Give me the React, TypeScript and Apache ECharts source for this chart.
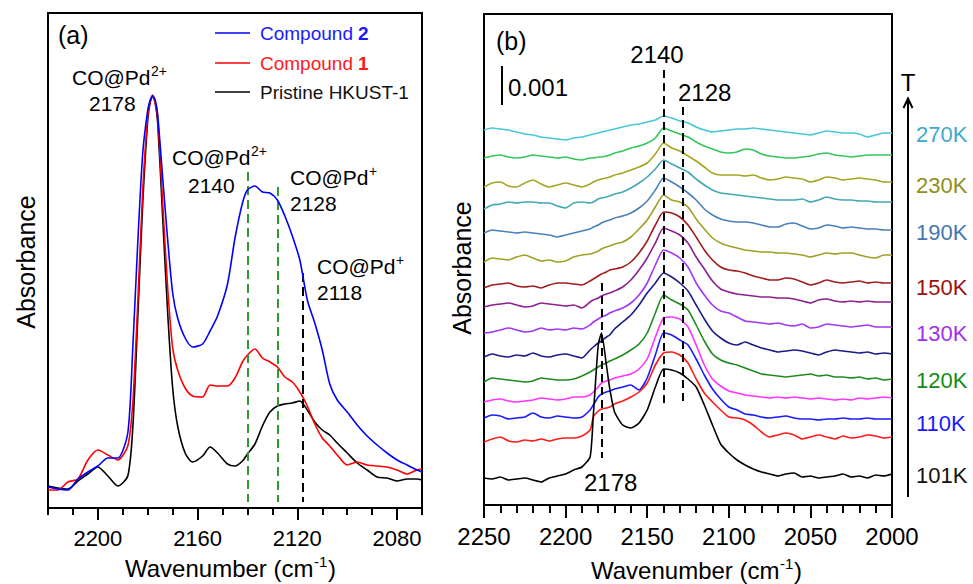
import { useEffect, useRef } from "react";
import * as echarts from "echarts";

const FONT = '"Liberation Sans", Arial, Helvetica, sans-serif';

// ---------- Panel (a) data ----------
const WN_A = [2220, 2216, 2212, 2208, 2204, 2200, 2196, 2192, 2188, 2186, 2184, 2182, 2180, 2179, 2178, 2177, 2176, 2174, 2172, 2170, 2168, 2165, 2162, 2158, 2155, 2152, 2148, 2145, 2142, 2140, 2137, 2134, 2131, 2128, 2125, 2122, 2119, 2116, 2113, 2110, 2107, 2104, 2100, 2096, 2092, 2088, 2084, 2080, 2076, 2072, 2070];
const PRISTINE_A = [22, 20, 19, 27, 34, 41, 32, 22, 32, 80, 190, 305, 388, 406, 412, 405, 385, 290, 195, 120, 82, 55, 46, 52, 61, 55, 44, 42, 47, 54, 64, 82, 96, 102, 104, 105, 107, 98, 86, 78, 73, 65, 55, 45, 38, 31, 30, 27, 29, 29, 28];
const COMPOUND1_A = [18, 18, 26, 29, 48, 58, 53, 48, 62, 105, 205, 318, 392, 407, 413, 405, 390, 305, 220, 160, 138, 120, 112, 111, 123, 122, 122, 130, 146, 153, 159, 150, 146, 141, 131, 126, 116, 102, 84, 70, 62, 53, 43, 46, 43, 42, 41, 38, 34, 38, 39];
const COMPOUND2_A = [21, 19, 18, 29, 36, 42, 50, 50, 75, 160, 265, 355, 398, 408, 412, 408, 393, 330, 268, 215, 190, 170, 161, 164, 177, 192, 224, 270, 305, 318, 322, 316, 315, 308, 292, 272, 248, 208, 185, 158, 124, 108, 96, 83, 72, 63, 55, 48, 43, 38, 36];
const A_MAJOR_TICKS = [2200, 2160, 2120, 2080];
const A_MARKERS = [2140, 2128, 2118];

// ---------- Panel (b) data ----------
const WN_B = [2250, 2245, 2240, 2235, 2230, 2225, 2220, 2215, 2210, 2205, 2200, 2195, 2190, 2185, 2183, 2180, 2178, 2175, 2173, 2170, 2165, 2160, 2155, 2150, 2145, 2140, 2135, 2130, 2125, 2120, 2115, 2110, 2105, 2100, 2095, 2090, 2085, 2080, 2075, 2070, 2065, 2060, 2055, 2050, 2045, 2040, 2035, 2030, 2025, 2020, 2015, 2010, 2005, 2000];
const TEMPS_B = ["270K", "250K", "230K", "210K", "190K", "170K", "150K", "140K", "130K", "125K", "120K", "115K", "110K", "105K", "101K"];
const B_270K = [375, 377, 376, 375, 373, 371, 370, 368, 367, 366, 365, 367, 368, 370, 371, 372, 373, 374, 375, 376, 378, 380, 381, 383, 385, 389, 387, 384, 382, 378, 375, 373, 374, 375, 376, 376, 377, 376, 375, 374, 373, 372, 371, 370, 372, 374, 373, 372, 372, 371, 368, 370, 372, 372];
const B_250K = [347, 349, 350, 348, 347, 348, 350, 349, 348, 347, 348, 346, 345, 347, 347, 348, 348, 349, 350, 352, 354, 357, 359, 362, 367, 377, 374, 371, 368, 363, 359, 356, 353, 352, 353, 356, 355, 351, 349, 348, 347, 347, 348, 349, 351, 352, 350, 349, 348, 349, 350, 350, 350, 350];
const B_230K = [318, 322, 323, 319, 318, 322, 325, 321, 318, 320, 322, 320, 318, 321, 323, 325, 326, 327, 328, 330, 332, 335, 338, 342, 351, 362, 357, 354, 349, 344, 338, 332, 330, 330, 330, 329, 330, 327, 325, 326, 328, 327, 326, 323, 325, 328, 327, 325, 326, 327, 326, 325, 323, 323];
const B_210K = [296, 300, 301, 303, 302, 303, 303, 302, 302, 299, 297, 302, 303, 302, 303, 306, 307, 308, 309, 311, 313, 317, 322, 328, 336, 345, 341, 337, 333, 326, 320, 315, 312, 311, 310, 309, 308, 307, 306, 305, 305, 305, 306, 303, 305, 308, 306, 305, 305, 304, 304, 303, 303, 303];
const B_190K = [272, 275, 274, 273, 272, 273, 272, 271, 270, 268, 270, 272, 274, 276, 278, 280, 282, 284, 285, 287, 289, 292, 297, 304, 315, 327, 323, 318, 312, 305, 296, 290, 286, 284, 283, 283, 282, 280, 278, 278, 281, 282, 279, 276, 277, 280, 279, 277, 278, 277, 276, 276, 275, 275];
const B_170K = [243, 247, 246, 245, 248, 250, 247, 244, 245, 243, 244, 248, 250, 251, 252, 254, 256, 258, 259, 261, 263, 268, 276, 285, 298, 310, 305, 303, 298, 286, 276, 267, 262, 259, 257, 255, 254, 253, 253, 252, 252, 251, 250, 248, 250, 252, 251, 252, 252, 250, 248, 247, 250, 250];
const B_150K = [217, 220, 221, 222, 219, 218, 219, 217, 220, 222, 222, 221, 220, 224, 226, 229, 231, 233, 235, 236, 238, 243, 252, 264, 280, 293, 292, 288, 280, 268, 255, 245, 238, 235, 234, 232, 229, 227, 225, 225, 227, 226, 223, 220, 222, 225, 223, 222, 223, 224, 222, 223, 222, 222];
const B_140K = [198, 200, 201, 202, 200, 198, 199, 202, 201, 200, 199, 200, 197, 203, 205, 207, 209, 211, 212, 214, 218, 225, 235, 247, 262, 277, 274, 270, 262, 248, 236, 224, 216, 213, 211, 210, 209, 208, 208, 207, 207, 206, 204, 202, 205, 206, 204, 203, 204, 203, 204, 203, 203, 203];
const B_130K = [172, 173, 175, 177, 175, 173, 174, 177, 175, 176, 175, 177, 176, 180, 183, 186, 188, 190, 192, 194, 197, 202, 210, 222, 240, 255, 252, 247, 238, 222, 210, 200, 194, 192, 188, 184, 183, 182, 181, 182, 180, 179, 181, 177, 178, 181, 180, 179, 178, 179, 180, 178, 178, 178];
const B_125K = [148, 151, 149, 148, 150, 149, 152, 149, 148, 150, 151, 149, 147, 155, 158, 162, 164, 168, 170, 176, 183, 190, 200, 212, 222, 232, 228, 222, 214, 200, 186, 174, 167, 162, 160, 163, 160, 157, 155, 153, 154, 155, 154, 152, 150, 153, 155, 154, 153, 152, 153, 151, 152, 151];
const B_120K = [123, 127, 126, 125, 124, 123, 124, 127, 126, 125, 125, 126, 129, 133, 135, 138, 140, 142, 144, 146, 150, 155, 161, 172, 192, 210, 205, 201, 195, 180, 164, 151, 145, 142, 140, 137, 134, 131, 130, 129, 128, 129, 130, 131, 129, 130, 128, 128, 127, 128, 126, 127, 125, 126];
const B_115K = [103, 105, 106, 104, 103, 104, 105, 107, 106, 105, 106, 108, 108, 110, 113, 118, 122, 124, 125, 127, 129, 131, 136, 146, 168, 187, 188, 186, 178, 160, 140, 126, 119, 114, 112, 110, 109, 108, 107, 108, 107, 108, 107, 106, 107, 106, 105, 106, 105, 107, 106, 107, 108, 107];
const B_110K = [87, 90, 89, 86, 87, 88, 92, 88, 87, 89, 88, 87, 88, 95, 100, 108, 111, 113, 114, 116, 118, 120, 115, 127, 150, 172, 170, 165, 160, 146, 130, 116, 106, 98, 95, 91, 90, 88, 87, 88, 89, 87, 86, 86, 85, 86, 86, 87, 86, 86, 87, 86, 86, 86];
const B_105K = [63, 66, 68, 64, 63, 65, 64, 66, 64, 66, 67, 67, 69, 75, 88, 94, 96, 97, 98, 101, 104, 108, 113, 122, 140, 152, 153, 150, 142, 126, 112, 103, 95, 88, 87, 85, 80, 73, 68, 70, 72, 70, 66, 68, 70, 68, 66, 69, 67, 68, 70, 69, 67, 68];
const B_101K = [27, 26, 28, 25, 26, 27, 25, 23, 27, 29, 31, 35, 38, 48, 90, 160, 172, 140, 117, 93, 80, 77, 82, 95, 118, 136, 135, 132, 126, 118, 100, 80, 61, 52, 45, 40, 36, 33, 31, 29, 31, 32, 28, 29, 27, 28, 29, 31, 28, 29, 27, 30, 29, 31];
const SPECTRA_B = [B_270K, B_250K, B_230K, B_210K, B_190K, B_170K, B_150K, B_140K, B_130K, B_125K, B_120K, B_115K, B_110K, B_105K, B_101K];
const B_MARKERS = [2140, 2128, 2178];
const B_SCALE_BAR = 39; // units per 0.001 absorbance
const LABELED_TEMPS = ["270K", "230K", "190K", "150K", "130K", "120K", "110K", "101K"];

// ---------- styles ----------
const COLORS_B = ["#46c8d8", "#33c75a", "#a5a521", "#42a9b3", "#4b80b8", "#a0a024", "#a01c1c", "#8e1f8e", "#a236f5", "#1c1c88", "#1f8a1f", "#ff33ff", "#1a1aff", "#ff1a1a", "#000000"];
const LABEL_COLORS: Record<string, string> = { "270K": "#3fa9cc", "230K": "#8f8f1a", "190K": "#4477b0", "150K": "#9e1010", "130K": "#a030f0", "120K": "#128c12", "110K": "#1a1aff", "101K": "#111111" };
const LABEL_Y: Record<string, number> = { "270K": 134, "230K": 185, "190K": 232, "150K": 287, "130K": 333, "120K": 380, "110K": 423, "101K": 475 };

const T = (text: string, x: number, y: number, size: number, fill = "#000", align = "left", weight = "normal", rotation = 0) => ({
  type: "text",
  x,
  y,
  rotation,
  silent: true,
  style: {
    text,
    fill,
    font: `${weight} ${size}px ${FONT}`,
    align,
    verticalAlign: "middle",
    textAlign: align,
    textVerticalAlign: "middle",
  },
});

const L = (x1: number, y1: number, x2: number, y2: number, stroke: string, lineWidth = 1.6) => ({
  type: "line",
  silent: true,
  shape: { x1, y1, x2, y2 },
  style: { stroke, lineWidth },
});

function buildOption() {
  const pairs = (wn: number[], vals: number[]) => wn.map((w, i) => [w, vals[i]]);

  const seriesA = [
    { name: "Pristine HKUST-1", vals: PRISTINE_A, color: "#000000" },
    { name: "Compound 1", vals: COMPOUND1_A, color: "#ff0000" },
    { name: "Compound 2", vals: COMPOUND2_A, color: "#0000ff" },
  ].map((s, idx) => ({
    type: "line",
    name: s.name,
    xAxisIndex: 0,
    yAxisIndex: 0,
    data: pairs(WN_A, s.vals),
    showSymbol: false,
    smooth: 0.25,
    lineStyle: { color: s.color, width: 1.6 },
    z: 3 + idx,
    markLine:
      idx === 0
        ? {
            silent: true,
            symbol: ["none", "none"],
            label: { show: false },
            data: [
              [{ coord: [A_MARKERS[0], 336], lineStyle: { color: "#2f9a2f", width: 2, type: [9, 5] } }, { coord: [A_MARKERS[0], 6] }],
              [{ coord: [A_MARKERS[1], 321], lineStyle: { color: "#2f9a2f", width: 2, type: [9, 5] } }, { coord: [A_MARKERS[1], 6] }],
              [{ coord: [A_MARKERS[2], 235], lineStyle: { color: "#000", width: 2, type: [9, 5] } }, { coord: [A_MARKERS[2], 6] }],
            ],
          }
        : undefined,
  }));

  const seriesB = SPECTRA_B.map((vals, i) => ({
    type: "line",
    name: TEMPS_B[i],
    xAxisIndex: 2,
    yAxisIndex: 1,
    data: pairs(WN_B, vals),
    showSymbol: false,
    smooth: 0.2,
    lineStyle: { color: COLORS_B[i], width: 1.6 },
    z: 3,
    markLine:
      i === 0
        ? {
            silent: true,
            symbol: ["none", "none"],
            label: { show: false },
            data: [
              [{ coord: [B_MARKERS[0], 435], lineStyle: { color: "#000", width: 2, type: [8, 5] } }, { coord: [B_MARKERS[0], 97] }],
              [{ coord: [B_MARKERS[1], 398], lineStyle: { color: "#000", width: 2, type: [8, 5] } }, { coord: [B_MARKERS[1], 102] }],
              [{ coord: [B_MARKERS[2], 222], lineStyle: { color: "#000", width: 2, type: [8, 5] } }, { coord: [B_MARKERS[2], 47] }],
              [{ coord: [2239, 439], lineStyle: { color: "#000", width: 2, type: "solid" } }, { coord: [2239, 439 - B_SCALE_BAR] }],
            ],
          }
        : undefined,
  }));

  const labelStyle = (size: number) => ({ color: "#000", fontSize: size, fontFamily: FONT, formatter: (v: number) => String(v) });

  const graphic: any[] = [
    // panel (a)
    T("(a)", 58, 35, 25),
    L(215, 33, 250, 33, "#0000ff"),
    L(215, 63, 250, 63, "#ff0000"),
    L(215, 92, 250, 92, "#000000"),
    T("Compound ", 260, 33, 19, "#1a1aff"),
    T("2", 358, 33, 19, "#1a1aff", "left", "bold"),
    T("Compound ", 260, 63, 19, "#ff1a1a"),
    T("1", 358, 63, 19, "#ff1a1a", "left", "bold"),
    T("Pristine HKUST-1", 260, 92, 19, "#111"),
    T("CO@Pd", 72, 77, 21),
    T("2+", 151, 71, 14),
    T("2178", 89, 103, 21),
    T("CO@Pd", 172, 157, 21),
    T("2+", 251, 151, 14),
    T("2140", 188, 185, 21),
    T("CO@Pd", 290, 177, 21),
    T("+", 369, 171, 14),
    T("2128", 290, 203, 21),
    T("CO@Pd", 317, 266, 21),
    T("+", 396, 260, 14),
    T("2118", 317, 292, 21),
    T("Absorbance", 26, 262, 25, "#000", "center", "normal", Math.PI / 2),
    T("Wavenumber (cm", 125, 568, 24),
    T("-1", 314, 561, 15),
    T(")", 328, 568, 24),
    // panel (b)
    T("(b)", 496, 41, 25),
    T("2140", 657, 54, 24, "#000", "center"),
    T("2128", 678, 92, 24),
    T("0.001", 508, 87, 24),
    T("2178", 584, 482, 24),
    T("Absorbance", 462, 268, 25, "#000", "center", "normal", Math.PI / 2),
    T("Wavenumber (cm", 591, 570, 24),
    T("-1", 780, 563, 15),
    T(")", 794, 570, 24),
    T("T", 908, 82, 24, "#000", "center"),
    L(908, 497, 908, 99, "#000", 2),
    { type: "polyline", silent: true, shape: { points: [[903.5, 108], [908, 98.5], [912.5, 108]] }, style: { stroke: "#000", lineWidth: 2, fill: "none" } },
    ...LABELED_TEMPS.map((t) => T(t, 916, LABEL_Y[t], 22, LABEL_COLORS[t])),
  ];

  return {
    animation: false,
    backgroundColor: "#ffffff",
    grid: [
      { left: 48, top: 13, width: 374, height: 495, show: true, borderColor: "#000", borderWidth: 2, backgroundColor: "transparent" },
      { left: 484, top: 14, width: 408, height: 491, show: true, borderColor: "#000", borderWidth: 2, backgroundColor: "transparent" },
    ],
    xAxis: [
      {
        gridIndex: 0,
        type: "value",
        position: "bottom",
        min: 2070,
        max: 2220,
        inverse: true,
        axisLine: { show: true, onZero: false, lineStyle: { color: "#000", width: 2 } },
        axisTick: { show: true, customValues: A_MAJOR_TICKS, length: 12, lineStyle: { color: "#000", width: 2 } },
        axisLabel: { customValues: A_MAJOR_TICKS, margin: 19, ...labelStyle(22) },
        splitLine: { show: false },
      },
      {
        gridIndex: 0,
        type: "value",
        position: "bottom",
        min: 2070,
        max: 2220,
        interval: 10,
        inverse: true,
        axisLine: { show: false, onZero: false },
        axisTick: { show: true, length: 7, lineStyle: { color: "#000", width: 2 } },
        axisLabel: { show: false },
        splitLine: { show: false },
      },
      {
        gridIndex: 1,
        type: "value",
        position: "bottom",
        min: 2000,
        max: 2250,
        interval: 50,
        inverse: true,
        axisLine: { show: true, onZero: false, lineStyle: { color: "#000", width: 2 } },
        axisTick: { show: true, length: 13, lineStyle: { color: "#000", width: 2 } },
        axisLabel: { margin: 19, showMinLabel: true, showMaxLabel: true, ...labelStyle(24) },
        splitLine: { show: false },
      },
      {
        gridIndex: 1,
        type: "value",
        position: "bottom",
        min: 2000,
        max: 2250,
        interval: 10,
        inverse: true,
        axisLine: { show: false, onZero: false },
        axisTick: { show: true, length: 8, lineStyle: { color: "#000", width: 2 } },
        axisLabel: { show: false },
        splitLine: { show: false },
      },
    ],
    yAxis: [
      { gridIndex: 0, type: "value", min: 0, max: 495, show: false },
      { gridIndex: 1, type: "value", min: 0, max: 491, show: false },
    ],
    series: [...seriesA, ...seriesB],
    graphic,
  };
}

export default function App() {
  const ref = useRef<HTMLDivElement>(null);
  useEffect(() => {
    document.body.style.margin = "0";
    if (!ref.current) return;
    const chart = echarts.init(ref.current, null, { renderer: "svg" });
    chart.setOption(buildOption() as any);
    return () => chart.dispose();
  }, []);
  return <div ref={ref} style={{ width: 973, height: 584, background: "#fff" }} />;
}
